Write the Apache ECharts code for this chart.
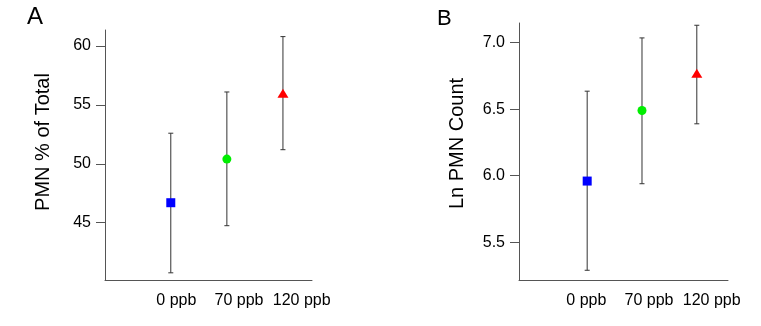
<!DOCTYPE html>
<html>
<head>
<meta charset="utf-8">
<script src="https://cdn.jsdelivr.net/npm/echarts@6/dist/echarts.min.js"></script>
<style>
  html, body { margin: 0; padding: 0; background: #fff; }
  #chart { width: 761px; height: 326px; }
</style>
</head>
<body>
<div id="chart"></div>
<script>
// dose groups
const doses = ['0 ppb', '70 ppb', '120 ppb'];
const doseX = [1, 2, 3];

// panel A: PMN % of total, mean with error bar limits
const pmnPct = [46.7, 50.4, 56.0];
const pmnPctLo = [40.75, 44.75, 51.2];
const pmnPctHi = [52.6, 56.1, 60.8];
const ticksA = [45, 50, 55, 60];

// panel B: ln PMN count
const lnCount = [5.96, 6.49, 6.77];
const lnCountLo = [5.29, 5.94, 6.39];
const lnCountHi = [6.635, 7.035, 7.13];
const ticksB = [5.5, 6.0, 6.5, 7.0];

const markers = [
    { symbol: 'rect', size: 9, color: '#0000ff' },
    { symbol: 'circle', size: 9, color: '#00ee00' },
    { symbol: 'triangle', size: [11, 9], color: '#ff0000' }
];

const font = 'Liberation Sans, Arial, Helvetica, sans-serif';
const axisColor = '#555';

function errorBars(params, api) {
    const x = api.value(0);
    const lo = api.coord([x, api.value(1)]);
    const hi = api.coord([x, api.value(2)]);
    const w = 2.5;
    const style = { stroke: '#333', lineWidth: 1 };
    return {
        type: 'group',
        children: [
            { type: 'line', shape: { x1: lo[0], y1: lo[1], x2: hi[0], y2: hi[1] }, style: style },
            { type: 'line', shape: { x1: lo[0] - w, y1: lo[1], x2: lo[0] + w, y2: lo[1] }, style: style },
            { type: 'line', shape: { x1: hi[0] - w, y1: hi[1], x2: hi[0] + w, y2: hi[1] }, style: style }
        ]
    };
}

function yAxisOf(gridIndex, name, min, max, ticks, digits, shift) {
    return {
        type: 'value', gridIndex: gridIndex, min: min, max: max,
        name: name, nameLocation: 'middle', nameGap: 52,
        nameTextStyle: { fontFamily: font, fontSize: 20, color: '#000', padding: [0, 0, 0, shift] },
        axisLine: { show: true, onZero: false, lineStyle: { color: axisColor, width: 1 } },
        axisTick: { show: true, length: 9, customValues: ticks, lineStyle: { color: axisColor } },
        axisLabel: {
            margin: 14, fontFamily: font, fontSize: 16, color: '#000',
            customValues: ticks,
            formatter: v => v.toFixed(digits)
        },
        splitLine: { show: false }
    };
}

function xAxisOf(gridIndex, min, max) {
    return {
        type: 'value', gridIndex: gridIndex, min: min, max: max,
        axisLine: { show: true, onZero: false, lineStyle: { color: axisColor, width: 1 } },
        axisTick: { show: false }, axisLabel: { show: false }, splitLine: { show: false }
    };
}

function labelAxisOf(gridIndex) {
    return {
        type: 'category', gridIndex: gridIndex, data: doses, boundaryGap: true,
        axisLine: { show: false }, axisTick: { show: false },
        axisLabel: {
            interval: 0, hideOverlap: false,
            margin: 13, fontFamily: font, fontSize: 16, color: '#000'
        }
    };
}

function hiddenY(gridIndex) {
    return { type: 'value', gridIndex: gridIndex, show: false };
}

function panelSeries(axisIndex, means, lo, hi) {
    const list = [{
        type: 'custom', xAxisIndex: axisIndex, yAxisIndex: axisIndex,
        renderItem: errorBars, silent: true, z: 1,
        data: doseX.map((x, i) => [x, lo[i], hi[i]])
    }];
    doses.forEach((d, i) => {
        list.push({
            type: 'scatter', name: d, xAxisIndex: axisIndex, yAxisIndex: axisIndex, z: 3,
            symbol: markers[i].symbol, symbolSize: markers[i].size,
            itemStyle: { color: markers[i].color, opacity: 1 },
            data: [[doseX[i], means[i]]]
        });
    });
    return list;
}

const chart = echarts.init(document.getElementById('chart'), null, { renderer: 'canvas' });
chart.setOption({
    backgroundColor: '#fff',
    animation: false,
    grid: [
        { left: 105, top: 30, width: 207, height: 250, outerBoundsMode: 'none' },
        { left: 519, top: 23, width: 209, height: 257, outerBoundsMode: 'none' },
        { left: 145, top: 30, width: 188, height: 250, outerBoundsMode: 'none' },
        { left: 555, top: 23, width: 188, height: 257, outerBoundsMode: 'none' }
    ],
    xAxis: [
        xAxisOf(0, -0.173, 3.518),
        xAxisOf(1, -0.244, 3.569),
        labelAxisOf(2),
        labelAxisOf(3)
    ],
    yAxis: [
        yAxisOf(0, 'PMN % of Total', 40.14, 61.36, ticksA, 0, 26),
        yAxisOf(1, 'Ln PMN Count', 5.217, 7.147, ticksB, 1, 16),
        hiddenY(2),
        hiddenY(3)
    ],
    graphic: [
        { type: 'text', left: 27, top: 5, style: { text: 'A', fontFamily: font, fontSize: 24, fill: '#000' } },
        { type: 'text', left: 437, top: 8, style: { text: 'B', fontFamily: font, fontSize: 22, fill: '#000' } }
    ],
    series: panelSeries(0, pmnPct, pmnPctLo, pmnPctHi)
        .concat(panelSeries(1, lnCount, lnCountLo, lnCountHi))
});
window.addEventListener('resize', function () {
    chart.resize();
});
</script>
</body>
</html>
